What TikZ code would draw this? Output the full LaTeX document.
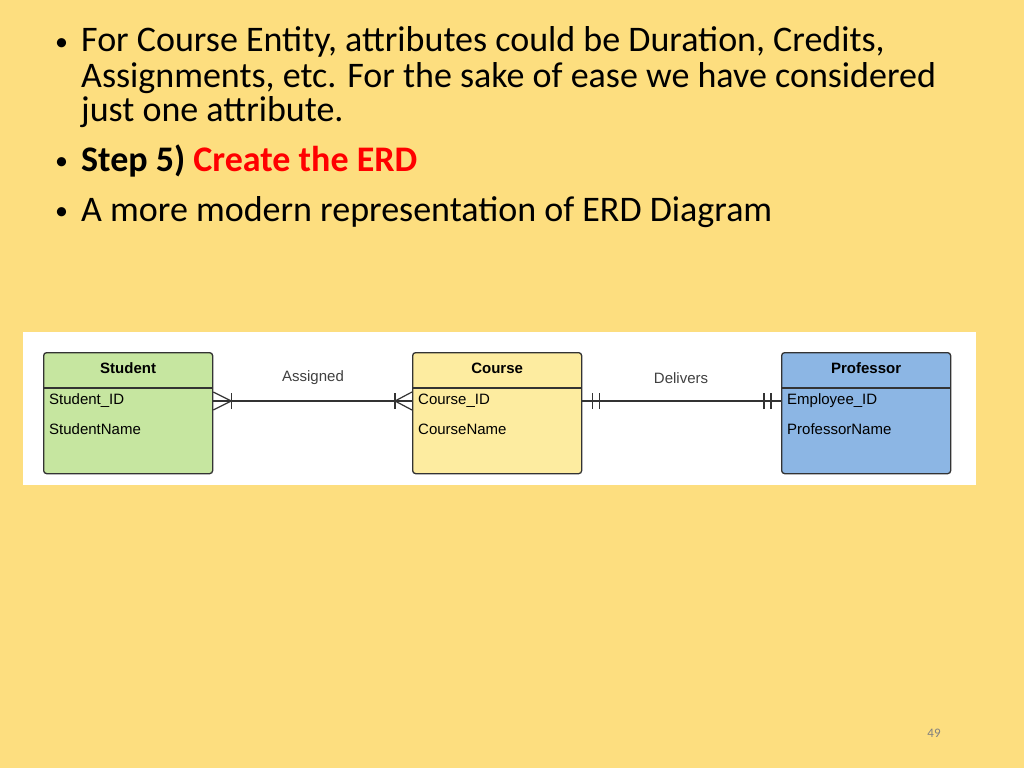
\documentclass[tikz,border=0pt]{standalone}
\usepackage{fontspec}
\setmainfont{Carlito}
\newfontfamily\diag{Liberation Sans}
\begin{document}
\begin{tikzpicture}[x=1pt,y=-1pt,
  bul/.style={anchor=base west,inner sep=0pt,font=\fontsize{36}{40}\selectfont},
  dot/.style={anchor=base west,inner sep=0pt,font=\fontsize{26}{30}\selectfont},
  ent/.style={draw=black!80,line width=1.3pt,rounded corners=3pt,minimum width=169pt,minimum height=121pt,anchor=north west},
  hd/.style={font=\diag\fontsize{15}{17}\selectfont\bfseries,anchor=center},
  attr/.style={font=\diag\fontsize{15}{17}\selectfont,anchor=west,inner sep=0pt},
  lbl/.style={font=\diag\fontsize{15}{17}\selectfont,text=black!75},
  ln/.style={line width=1.2pt,draw=black!80}]
\useasboundingbox (0,0) rectangle (1024,768);
\fill[fill={rgb,255:red,253;green,222;blue,127}] (0,0) rectangle (1024,768);
\node[dot] (b1) at (55,50) {•};
\node[bul] (t1) at (81,52) {For Course Entity, attributes could be Duration, Credits,};
\node[bul] (t2) at (81,87) {Assignments, etc. For the sake of ease we have considered};
\node[bul] (t3) at (81,121) {just one attribute.};
\node[dot] (b2) at (55,169) {•};
\node[bul] (t4) at (81,171) {\textbf{Step 5)} \textcolor{red}{\textbf{Create the ERD}}};
\node[dot] (b3) at (55,219) {•};
\node[bul] (t5) at (81,221) {A more modern representation of ERD Diagram};
\node[font=\fontsize{13}{15}\selectfont,text=black!50] (pg) at (934,733) {49};
\fill[white] (23,332) rectangle (976,485);
% entities
\node[ent,fill={rgb,255:red,198;green,230;blue,160}] (s) at (43,352) {};
\node[ent,fill={rgb,255:red,253;green,236;blue,160}] (c) at (412,352) {};
\node[ent,fill={rgb,255:red,140;green,182;blue,228}] (p) at (781,352) {};
\foreach \e/\n/\a/\b in {s/Student/Student\_ID/StudentName,c/Course/Course\_ID/CourseName,p/Professor/Employee\_ID/ProfessorName}{
  \draw[ln] ([yshift=-36]\e.north west) -- ([yshift=-36]\e.north east);
  \node[hd] at ([yshift=-16]\e.north) {\n};
  \node[attr] at ([xshift=6,yshift=-49]\e.north west) {\a};
  \node[attr] at ([xshift=6,yshift=-77]\e.north west) {\b};
}
\coordinate (sa) at ([yshift=-49]s.north east);
\coordinate (ca) at ([yshift=-49]c.north west);
\coordinate (cb) at ([yshift=-49]c.north east);
\coordinate (pa) at ([yshift=-49]p.north west);
\draw[ln] (sa) -- (ca);
\draw[ln] (cb) -- (pa);
% crow's feet
\draw[ln] ([yshift=-9]sa) -- ([xshift=18]sa) -- ([yshift=9]sa);
\draw[ln] ([xshift=18,yshift=-8]sa) -- ([xshift=18,yshift=8]sa);
\draw[ln] ([yshift=-9]ca) -- ([xshift=-17]ca) -- ([yshift=9]ca);
\draw[ln] ([xshift=-17,yshift=-8]ca) -- ([xshift=-17,yshift=8]ca);
\draw[ln] ([xshift=10,yshift=-8]cb) -- ([xshift=10,yshift=8]cb);
\draw[ln] ([xshift=17,yshift=-8]cb) -- ([xshift=17,yshift=8]cb);
\draw[ln] ([xshift=-10,yshift=-8]pa) -- ([xshift=-10,yshift=8]pa);
\draw[ln] ([xshift=-17,yshift=-8]pa) -- ([xshift=-17,yshift=8]pa);
\node[lbl] (l1) at (313,378) {Assigned};
\node[lbl] (l2) at (681,378) {Delivers};
\end{tikzpicture}
\end{document}
